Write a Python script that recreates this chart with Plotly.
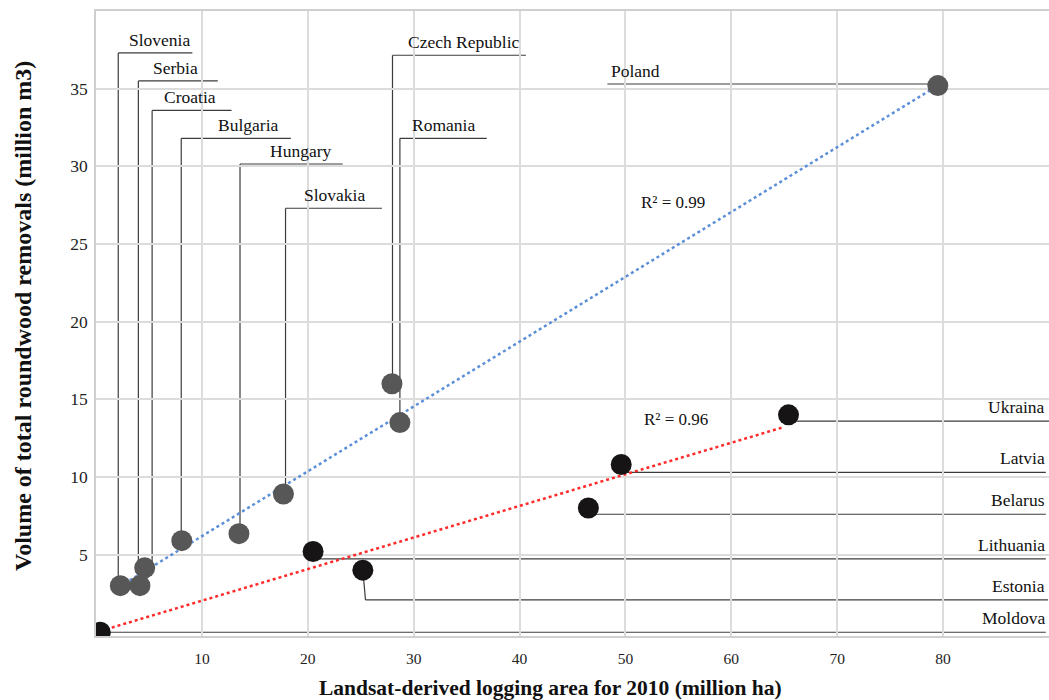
import plotly.graph_objects as go

# ---------------- data ----------------
countries_a = ["Slovenia", "Serbia", "Croatia", "Bulgaria", "Hungary", "Slovakia",
               "Czech Republic", "Romania", "Poland"]
area_a = [2.3, 4.15, 4.6, 8.1, 13.5, 17.7, 27.95, 28.7, 79.5]
volume_a = [3.0, 3.0, 4.15, 5.9, 6.35, 8.9, 16.0, 13.5, 35.2]

countries_b = ["Moldova", "Estonia", "Lithuania", "Belarus", "Latvia", "Ukraina"]
area_b = [0.4, 25.2, 20.5, 46.5, 49.6, 65.4]
volume_b = [0.0, 4.0, 5.2, 8.0, 10.8, 14.0]

trend_a_x = [2.2, 79.5]
trend_a_y = [2.93, 35.2]
trend_b_x = [0.4, 64.9]
trend_b_y = [0.08, 13.2]

r2_labels = ["R² = 0.99", "R² = 0.96"]

x_ticks = [10, 20, 30, 40, 50, 60, 70, 80]
y_ticks = [5, 10, 15, 20, 25, 30, 35]

x_title = "Landsat-derived logging area for 2010 (million ha)"
y_title = "Volume of total roundwood removals (million m3)"

# label layout (leader lines) -- positions only
# group a: vertical x, horizontal y, horizontal end x, text left x
lab_a_vx = [2.1, 4.0, 5.3, 8.05, 13.6, 17.9, 28.0, 28.7, 48.3]
lab_a_hy = [37.3, 35.5, 33.6, 31.8, 30.15, 27.3, 37.15, 31.8, 35.3]
lab_a_hx_end = [9.1, 11.5, 12.8, 18.4, 23.3, 27.0, 40.6, 36.9, 79.5]
lab_a_tx = [2.9, 5.2, 6.25, 11.3, 16.2, 19.5, 29.3, 29.7, 48.4]
# group b: horizontal line y, line end x
lab_b_hy = [0.0, 2.08, 4.72, 7.6, 10.3, 13.6]
lab_b_end = [89.7, 89.9, 89.7, 89.7, 89.7, 90.0]

FONT = "Liberation Serif"
LINE_C = "#3c3c3c"

fig = go.Figure()

# trend lines
fig.add_trace(go.Scatter(x=trend_a_x, y=trend_a_y, mode="lines",
                         line=dict(color="#5b8fd8", width=2.5, dash="dot"),
                         hoverinfo="skip", showlegend=False))
fig.add_trace(go.Scatter(x=trend_b_x, y=trend_b_y, mode="lines",
                         line=dict(color="#ff2a2a", width=2.5, dash="dot"),
                         hoverinfo="skip", showlegend=False))

# points
fig.add_trace(go.Scatter(x=area_a, y=volume_a, mode="markers", text=countries_a,
                         marker=dict(color="#575757", size=21), showlegend=False))
fig.add_trace(go.Scatter(x=area_b, y=volume_b, mode="markers", text=countries_b,
                         marker=dict(color="#161414", size=21), showlegend=False))

shapes = []
annotations = []

# group a leader lines and labels
for name, px, py, vx, hy, hend, tx in zip(countries_a, area_a, volume_a,
                                          lab_a_vx, lab_a_hy, lab_a_hx_end, lab_a_tx):
    if name == "Poland":
        shapes.append(dict(type="line", xref="x", yref="y", x0=vx, x1=px, y0=hy, y1=hy,
                           line=dict(color=LINE_C, width=1.2), layer="below"))
    else:
        shapes.append(dict(type="line", xref="x", yref="y", x0=vx, x1=vx, y0=py, y1=hy,
                           line=dict(color=LINE_C, width=1.2), layer="below"))
        shapes.append(dict(type="line", xref="x", yref="y", x0=vx, x1=hend, y0=hy, y1=hy,
                           line=dict(color=LINE_C, width=1.2), layer="below"))
    annotations.append(dict(x=tx, y=hy, xref="x", yref="y", text=name, showarrow=False,
                            xanchor="left", yanchor="bottom", yshift=1,
                            font=dict(family=FONT, size=17.5, color="#111")))

# group b leader lines and labels
for name, px, py, hy, xend in zip(countries_b, area_b, volume_b, lab_b_hy, lab_b_end):
    if name == "Estonia":
        shapes.append(dict(type="line", xref="x", yref="y", x0=px, x1=px + 0.25, y0=py, y1=hy,
                           line=dict(color=LINE_C, width=1.2), layer="below"))
        x_start = px + 0.25
    else:
        x_start = px
    shapes.append(dict(type="line", xref="x", yref="y", x0=x_start, x1=xend, y0=hy, y1=hy,
                       line=dict(color=LINE_C, width=1.2), layer="below"))
    annotations.append(dict(x=89.85, y=hy, xref="x", yref="y", text=name, showarrow=False,
                            xanchor="right", yanchor="bottom", yshift=2,
                            font=dict(family=FONT, size=17.5, color="#111")))

# R² labels
annotations.append(dict(x=54.5, y=27.7, xref="x", yref="y", text=r2_labels[0], showarrow=False,
                        font=dict(family=FONT, size=17, color="#111")))
annotations.append(dict(x=54.8, y=13.7, xref="x", yref="y", text=r2_labels[1], showarrow=False,
                        font=dict(family=FONT, size=17, color="#111")))

W, H = 1049, 700
ML, MR, MT, MB = 96, 0, 11, 64
PW, PH = W - ML - MR, H - MT - MB

# axis titles (placed as in the reference, slightly off-centre); pixel centre -> paper coords
annotations.append(dict(x=(550 - ML) / PW, y=(H - MB - 688) / PH, xref="paper", yref="paper",
                        xanchor="center", yanchor="middle",
                        text="<b>" + x_title + "</b>", showarrow=False,
                        font=dict(family=FONT, size=21.5, color="#111")))
annotations.append(dict(x=(23 - ML) / PW, y=(H - MB - 316) / PH, xref="paper", yref="paper",
                        xanchor="center", yanchor="middle",
                        text="<b>" + y_title + "</b>", showarrow=False, textangle=-90,
                        font=dict(family=FONT, size=24, color="#111")))

fig.update_layout(
    width=W, height=H,
    margin=dict(l=ML, r=MR, t=MT, b=MB, autoexpand=False),
    paper_bgcolor="white", plot_bgcolor="white",
    font=dict(family=FONT, color="#111"),
    shapes=shapes, annotations=annotations,
    xaxis=dict(range=[0, 90], tickvals=x_ticks, showgrid=True, gridcolor="#dcdcdc", gridwidth=1.5,
               zeroline=False, showline=True, linecolor="#cfcfcf", linewidth=1.5, mirror=True,
               ticks="", ticklabelstandoff=8, tickfont=dict(family=FONT, size=15.5, color="#222")),
    yaxis=dict(range=[-0.24, 40.0], tickvals=y_ticks, showgrid=True, gridcolor="#dcdcdc", gridwidth=1.5,
               zeroline=False, showline=True, linecolor="#cfcfcf", linewidth=1.5,
               ticks="", ticklabelstandoff=3, tickfont=dict(family=FONT, size=17.5, color="#222")),
)

fig.write_html("out.html", config={"displayModeBar": False},
               post_script="document.body.style.margin='0';document.body.style.overflow='hidden';")
